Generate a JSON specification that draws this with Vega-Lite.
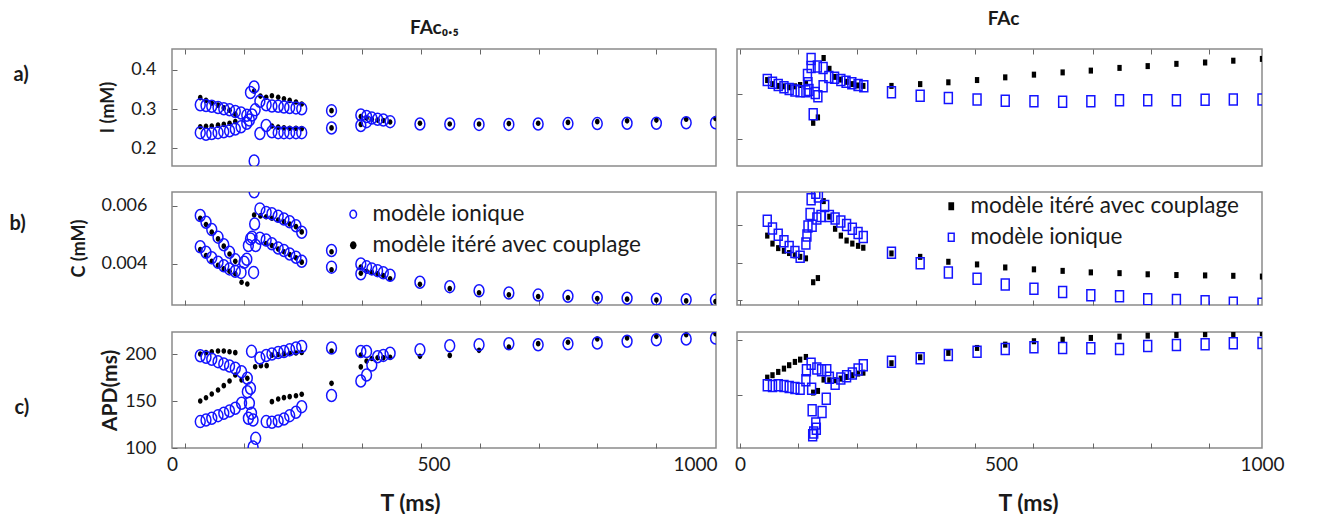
{
"$schema":"https://vega.github.io/schema/vega-lite/v6.json",
"background":"white",
"padding":{"left":8,"top":8,"right":0,"bottom":0},
"config":{
 "font":"Lato",
 "view":{"stroke":"#8a8a8a","strokeWidth":1.5},
 "axis":{"domain":false,"grid":false,"tickSize":-5,"tickColor":"#666","labelFont":"Lato","labelFontSize":18,"labelColor":"#1a1a1a","titleFont":"Lato","titleFontWeight":"bold","titleFontSize":19,"titleColor":"#1a1a1a","labelFlush":false,"labelOverlap":false},
 "axisX":{"labelPadding":12},
 "axisY":{"labelPadding":14},
 "legend":{"labelFont":"Lato","labelFontSize":22.5,"labelColor":"#1a1a1a","labelLimit":500,"symbolSize":64,"symbolStrokeWidth":1.5,"padding":0,"rowPadding":8,"labelOffset":8},
 "title":{"font":"Lato","fontSize":20,"fontWeight":"bold","color":"#1a1a1a"}
},
"datasets":{
"La":[
{"m":"c","T":54,"v":0.329},{"m":"c","T":65,"v":0.322},{"m":"c","T":76,"v":0.315},{"m":"c","T":88,"v":0.31},{"m":"c","T":99,"v":0.303},{"m":"c","T":110,"v":0.297},{"m":"c","T":121,"v":0.287},
{"m":"c","T":54,"v":0.255},{"m":"c","T":65,"v":0.256},{"m":"c","T":76,"v":0.257},{"m":"c","T":88,"v":0.259},{"m":"c","T":99,"v":0.261},{"m":"c","T":110,"v":0.264},{"m":"c","T":121,"v":0.268},
{"m":"c","T":157,"v":0.346},
{"m":"c","T":169,"v":0.333},{"m":"c","T":180,"v":0.33},{"m":"c","T":191,"v":0.334},{"m":"c","T":203,"v":0.33},{"m":"c","T":214,"v":0.326},{"m":"c","T":225,"v":0.322},{"m":"c","T":237,"v":0.318},{"m":"c","T":248,"v":0.313},
{"m":"c","T":191,"v":0.257},{"m":"c","T":203,"v":0.254},{"m":"c","T":214,"v":0.252},{"m":"c","T":225,"v":0.251},{"m":"c","T":237,"v":0.251},{"m":"c","T":248,"v":0.25},
{"m":"c","T":305,"v":0.296},{"m":"c","T":305,"v":0.252},
{"m":"c","T":361,"v":0.281},{"m":"c","T":361,"v":0.261},{"m":"c","T":372,"v":0.277},{"m":"c","T":382,"v":0.274},{"m":"c","T":393,"v":0.272},{"m":"c","T":404,"v":0.271},{"m":"c","T":417,"v":0.267},
{"m":"c","T":474,"v":0.264},{"m":"c","T":531,"v":0.262},{"m":"c","T":587,"v":0.262},{"m":"c","T":644,"v":0.263},{"m":"c","T":700,"v":0.264},{"m":"c","T":757,"v":0.266},{"m":"c","T":813,"v":0.268},{"m":"c","T":870,"v":0.27},{"m":"c","T":926,"v":0.272},{"m":"c","T":983,"v":0.274},{"m":"c","T":1039,"v":0.276},
{"m":"i","T":54,"v":0.311},{"m":"i","T":65,"v":0.309},{"m":"i","T":76,"v":0.307},{"m":"i","T":88,"v":0.304},{"m":"i","T":99,"v":0.301},{"m":"i","T":110,"v":0.298},{"m":"i","T":121,"v":0.294},{"m":"i","T":132,"v":0.29},{"m":"i","T":143,"v":0.284},
{"m":"i","T":54,"v":0.24},{"m":"i","T":65,"v":0.236},{"m":"i","T":76,"v":0.238},{"m":"i","T":88,"v":0.24},{"m":"i","T":99,"v":0.242},{"m":"i","T":110,"v":0.245},{"m":"i","T":121,"v":0.249},{"m":"i","T":132,"v":0.255},{"m":"i","T":143,"v":0.264},
{"m":"i","T":148,"v":0.272},{"m":"i","T":150,"v":0.342},{"m":"i","T":153,"v":0.285},{"m":"i","T":157,"v":0.356},{"m":"i","T":159,"v":0.298},{"m":"i","T":157,"v":0.168},{"m":"i","T":168,"v":0.238},{"m":"i","T":180,"v":0.258},
{"m":"i","T":168,"v":0.32},{"m":"i","T":180,"v":0.311},{"m":"i","T":191,"v":0.308},{"m":"i","T":203,"v":0.307},{"m":"i","T":214,"v":0.305},{"m":"i","T":225,"v":0.304},{"m":"i","T":237,"v":0.303},{"m":"i","T":248,"v":0.301},
{"m":"i","T":191,"v":0.242},{"m":"i","T":203,"v":0.24},{"m":"i","T":214,"v":0.24},{"m":"i","T":225,"v":0.24},{"m":"i","T":237,"v":0.24},{"m":"i","T":248,"v":0.24},
{"m":"i","T":305,"v":0.296},{"m":"i","T":305,"v":0.252},
{"m":"i","T":361,"v":0.285},{"m":"i","T":361,"v":0.258},{"m":"i","T":372,"v":0.281},{"m":"i","T":372,"v":0.268},{"m":"i","T":382,"v":0.277},{"m":"i","T":393,"v":0.274},{"m":"i","T":404,"v":0.272},{"m":"i","T":417,"v":0.268},
{"m":"i","T":474,"v":0.262},{"m":"i","T":531,"v":0.262},{"m":"i","T":587,"v":0.261},{"m":"i","T":644,"v":0.261},{"m":"i","T":700,"v":0.262},{"m":"i","T":757,"v":0.263},{"m":"i","T":813,"v":0.263},{"m":"i","T":870,"v":0.264},{"m":"i","T":926,"v":0.264},{"m":"i","T":983,"v":0.265},{"m":"i","T":1039,"v":0.265}
],
"Lb":[
{"m":"c","T":54,"v":0.00557},{"m":"c","T":65,"v":0.00535},{"m":"c","T":76,"v":0.00509},{"m":"c","T":88,"v":0.00486},{"m":"c","T":99,"v":0.00461},{"m":"c","T":110,"v":0.00434},{"m":"c","T":121,"v":0.00409},
{"m":"c","T":54,"v":0.00449},{"m":"c","T":65,"v":0.00429},{"m":"c","T":76,"v":0.00409},{"m":"c","T":88,"v":0.00395},{"m":"c","T":99,"v":0.00383},{"m":"c","T":110,"v":0.00375},{"m":"c","T":121,"v":0.00366},
{"m":"c","T":133,"v":0.00337},{"m":"c","T":144,"v":0.00331},
{"m":"c","T":157,"v":0.00568},
{"m":"c","T":169,"v":0.00565},{"m":"c","T":180,"v":0.00562},{"m":"c","T":191,"v":0.00557},{"m":"c","T":203,"v":0.00551},{"m":"c","T":214,"v":0.00545},{"m":"c","T":225,"v":0.00537},{"m":"c","T":237,"v":0.00528},{"m":"c","T":248,"v":0.0051},
{"m":"c","T":180,"v":0.0047},{"m":"c","T":191,"v":0.00463},{"m":"c","T":203,"v":0.00451},{"m":"c","T":214,"v":0.00442},{"m":"c","T":225,"v":0.00432},{"m":"c","T":237,"v":0.00421},{"m":"c","T":248,"v":0.00406},
{"m":"c","T":305,"v":0.00442},{"m":"c","T":305,"v":0.0038},
{"m":"c","T":361,"v":0.00389},{"m":"c","T":361,"v":0.00368},{"m":"c","T":372,"v":0.00375},{"m":"c","T":382,"v":0.00371},{"m":"c","T":393,"v":0.00366},{"m":"c","T":404,"v":0.0036},{"m":"c","T":417,"v":0.00349},
{"m":"c","T":474,"v":0.0033},{"m":"c","T":531,"v":0.00315},{"m":"c","T":587,"v":0.00301},{"m":"c","T":644,"v":0.00294},{"m":"c","T":700,"v":0.00288},{"m":"c","T":757,"v":0.00284},{"m":"c","T":813,"v":0.00281},{"m":"c","T":870,"v":0.00279},{"m":"c","T":926,"v":0.00276},{"m":"c","T":983,"v":0.00273},{"m":"c","T":1039,"v":0.00271},
{"m":"i","T":54,"v":0.00566},{"m":"i","T":65,"v":0.00543},{"m":"i","T":76,"v":0.00518},{"m":"i","T":88,"v":0.00492},{"m":"i","T":99,"v":0.00466},{"m":"i","T":110,"v":0.0044},{"m":"i","T":121,"v":0.00414},
{"m":"i","T":54,"v":0.00459},{"m":"i","T":65,"v":0.0044},{"m":"i","T":76,"v":0.00421},{"m":"i","T":88,"v":0.00406},{"m":"i","T":99,"v":0.00394},{"m":"i","T":110,"v":0.00383},{"m":"i","T":121,"v":0.00375},{"m":"i","T":132,"v":0.00371},
{"m":"i","T":138,"v":0.00406},{"m":"i","T":143,"v":0.00416},{"m":"i","T":146,"v":0.00463},{"m":"i","T":150,"v":0.00486},{"m":"i","T":153,"v":0.00492},{"m":"i","T":156,"v":0.00371},{"m":"i","T":158,"v":0.00537},{"m":"i","T":157,"v":0.00648},{"m":"i","T":160,"v":0.00463},
{"m":"i","T":168,"v":0.00589},{"m":"i","T":180,"v":0.00577},{"m":"i","T":191,"v":0.00572},{"m":"i","T":203,"v":0.00564},{"m":"i","T":214,"v":0.00554},{"m":"i","T":225,"v":0.00545},{"m":"i","T":237,"v":0.00531},{"m":"i","T":248,"v":0.00509},
{"m":"i","T":168,"v":0.00488},{"m":"i","T":180,"v":0.00482},{"m":"i","T":191,"v":0.00469},{"m":"i","T":203,"v":0.00455},{"m":"i","T":214,"v":0.00446},{"m":"i","T":225,"v":0.00434},{"m":"i","T":237,"v":0.00423},{"m":"i","T":248,"v":0.00409},
{"m":"i","T":305,"v":0.00446},{"m":"i","T":305,"v":0.00389},
{"m":"i","T":361,"v":0.004},{"m":"i","T":361,"v":0.00366},{"m":"i","T":372,"v":0.0039},{"m":"i","T":382,"v":0.00383},{"m":"i","T":393,"v":0.00377},{"m":"i","T":404,"v":0.0037},{"m":"i","T":417,"v":0.00361},
{"m":"i","T":474,"v":0.00337},{"m":"i","T":531,"v":0.00322},{"m":"i","T":587,"v":0.00308},{"m":"i","T":644,"v":0.003},{"m":"i","T":700,"v":0.00293},{"m":"i","T":757,"v":0.00289},{"m":"i","T":813,"v":0.00285},{"m":"i","T":870,"v":0.00282},{"m":"i","T":926,"v":0.00279},{"m":"i","T":983,"v":0.00277},{"m":"i","T":1039,"v":0.00275}
],
"Lc":[
{"m":"c","T":54,"v":200.5},{"m":"c","T":65,"v":201.9},{"m":"c","T":76,"v":202.9},{"m":"c","T":88,"v":203.7},{"m":"c","T":99,"v":203.7},{"m":"c","T":110,"v":202.9},{"m":"c","T":121,"v":201.9},
{"m":"c","T":54,"v":150.2},{"m":"c","T":65,"v":153.7},{"m":"c","T":76,"v":157.7},{"m":"c","T":88,"v":162},{"m":"c","T":99,"v":166.6},{"m":"c","T":110,"v":171.6},{"m":"c","T":121,"v":178},{"m":"c","T":133,"v":172.7},{"m":"c","T":144,"v":174.5},
{"m":"c","T":159,"v":186.9},{"m":"c","T":170,"v":188},{"m":"c","T":181,"v":188},
{"m":"c","T":191,"v":199.2},{"m":"c","T":203,"v":199.9},{"m":"c","T":214,"v":200.6},{"m":"c","T":225,"v":201},{"m":"c","T":237,"v":201.6},{"m":"c","T":248,"v":202.1},
{"m":"c","T":191,"v":149.5},{"m":"c","T":203,"v":152.4},{"m":"c","T":214,"v":153.8},{"m":"c","T":225,"v":154.9},{"m":"c","T":237,"v":155.9},{"m":"c","T":248,"v":157.5},
{"m":"c","T":305,"v":203.7},{"m":"c","T":305,"v":169.1},
{"m":"c","T":361,"v":199.2},{"m":"c","T":361,"v":186.7},{"m":"c","T":372,"v":192.9},{"m":"c","T":382,"v":195.7},{"m":"c","T":393,"v":196.4},{"m":"c","T":404,"v":196.4},{"m":"c","T":417,"v":196.8},
{"m":"c","T":474,"v":198},{"m":"c","T":531,"v":199},{"m":"c","T":587,"v":204.4},{"m":"c","T":644,"v":208},{"m":"c","T":700,"v":211.5},{"m":"c","T":757,"v":213},{"m":"c","T":813,"v":216.5},{"m":"c","T":870,"v":217.6},{"m":"c","T":926,"v":219.4},{"m":"c","T":983,"v":221.1},{"m":"c","T":1039,"v":222.2},
{"m":"i","T":54,"v":198.7},{"m":"i","T":65,"v":197},{"m":"i","T":76,"v":194.8},{"m":"i","T":88,"v":192.3},{"m":"i","T":99,"v":189.8},{"m":"i","T":110,"v":187.7},{"m":"i","T":121,"v":185.2},{"m":"i","T":133,"v":181.6},{"m":"i","T":144,"v":174.5},
{"m":"i","T":54,"v":128.2},{"m":"i","T":65,"v":130},{"m":"i","T":76,"v":131.8},{"m":"i","T":88,"v":134.6},{"m":"i","T":99,"v":137.2},{"m":"i","T":110,"v":139.6},{"m":"i","T":121,"v":142.5},{"m":"i","T":133,"v":147.8},
{"m":"i","T":144,"v":160.2},{"m":"i","T":150,"v":163.8},{"m":"i","T":152,"v":203.3},{"m":"i","T":148,"v":147.8},{"m":"i","T":152,"v":137.2},{"m":"i","T":146,"v":131.8},{"m":"i","T":155,"v":130},{"m":"i","T":160,"v":110.3},{"m":"i","T":155,"v":101},
{"m":"i","T":168,"v":196.1},{"m":"i","T":180,"v":198.9},{"m":"i","T":191,"v":200.4},{"m":"i","T":203,"v":202.1},{"m":"i","T":214,"v":203.2},{"m":"i","T":225,"v":205},{"m":"i","T":237,"v":206.8},{"m":"i","T":248,"v":208.5},
{"m":"i","T":180,"v":128.2},{"m":"i","T":191,"v":127.5},{"m":"i","T":203,"v":128.9},{"m":"i","T":214,"v":131},{"m":"i","T":225,"v":134.6},{"m":"i","T":237,"v":138.2},{"m":"i","T":248,"v":144.2},
{"m":"i","T":305,"v":206.8},{"m":"i","T":305,"v":156.2},
{"m":"i","T":361,"v":203.2},{"m":"i","T":361,"v":171.6},{"m":"i","T":372,"v":203.2},{"m":"i","T":372,"v":178},{"m":"i","T":382,"v":188.7},{"m":"i","T":393,"v":197.6},{"m":"i","T":404,"v":199},{"m":"i","T":417,"v":201.3},
{"m":"i","T":474,"v":205.1},{"m":"i","T":531,"v":209.3},{"m":"i","T":587,"v":210.4},{"m":"i","T":644,"v":211.5},{"m":"i","T":700,"v":210.4},{"m":"i","T":757,"v":211.5},{"m":"i","T":813,"v":212.2},{"m":"i","T":870,"v":214.1},{"m":"i","T":926,"v":215.8},{"m":"i","T":983,"v":216.5},{"m":"i","T":1039,"v":217.6}
],
"Ra":[
{"m":"c","T":52,"v":0.331},{"m":"c","T":62,"v":0.322},{"m":"c","T":73,"v":0.318},{"m":"c","T":84,"v":0.317},{"m":"c","T":94,"v":0.315},{"m":"c","T":105,"v":0.317},{"m":"c","T":115,"v":0.32},{"m":"c","T":126,"v":0.324},{"m":"c","T":140,"v":0.236},{"m":"c","T":149,"v":0.248},{"m":"c","T":160,"v":0.38},{"m":"c","T":171,"v":0.356},{"m":"c","T":182,"v":0.338},{"m":"c","T":193,"v":0.332},{"m":"c","T":204,"v":0.327},{"m":"c","T":215,"v":0.322},{"m":"c","T":226,"v":0.319},{"m":"c","T":236,"v":0.318},
{"m":"c","T":290,"v":0.318},{"m":"c","T":345,"v":0.322},{"m":"c","T":399,"v":0.326},{"m":"c","T":454,"v":0.331},{"m":"c","T":508,"v":0.337},{"m":"c","T":563,"v":0.343},{"m":"c","T":618,"v":0.348},{"m":"c","T":672,"v":0.352},{"m":"c","T":727,"v":0.358},{"m":"c","T":781,"v":0.362},{"m":"c","T":836,"v":0.367},{"m":"c","T":891,"v":0.37},{"m":"c","T":945,"v":0.374},{"m":"c","T":1000,"v":0.378},
{"m":"i","T":52,"v":0.331},{"m":"i","T":62,"v":0.325},{"m":"i","T":73,"v":0.32},{"m":"i","T":84,"v":0.315},{"m":"i","T":94,"v":0.311},{"m":"i","T":105,"v":0.308},{"m":"i","T":115,"v":0.306},{"m":"i","T":126,"v":0.306},
{"m":"i","T":129,"v":0.342},{"m":"i","T":130,"v":0.324},{"m":"i","T":132,"v":0.309},{"m":"i","T":136,"v":0.378},{"m":"i","T":136,"v":0.36},{"m":"i","T":140,"v":0.255},{"m":"i","T":144,"v":0.302},{"m":"i","T":149,"v":0.295},{"m":"i","T":148,"v":0.361},{"m":"i","T":159,"v":0.358},{"m":"i","T":159,"v":0.317},{"m":"i","T":170,"v":0.338},
{"m":"i","T":181,"v":0.336},{"m":"i","T":193,"v":0.331},{"m":"i","T":203,"v":0.327},{"m":"i","T":214,"v":0.324},{"m":"i","T":226,"v":0.32},{"m":"i","T":237,"v":0.317},
{"m":"i","T":290,"v":0.304},{"m":"i","T":345,"v":0.296},{"m":"i","T":399,"v":0.291},{"m":"i","T":454,"v":0.288},{"m":"i","T":508,"v":0.285},{"m":"i","T":563,"v":0.284},{"m":"i","T":618,"v":0.283},{"m":"i","T":672,"v":0.284},{"m":"i","T":727,"v":0.286},{"m":"i","T":781,"v":0.286},{"m":"i","T":836,"v":0.286},{"m":"i","T":891,"v":0.287},{"m":"i","T":945,"v":0.288},{"m":"i","T":1000,"v":0.288}
],
"Rb":[
{"m":"c","T":52,"v":0.00571},{"m":"c","T":62,"v":0.0055},{"m":"c","T":73,"v":0.00538},{"m":"c","T":84,"v":0.00531},{"m":"c","T":94,"v":0.00525},{"m":"c","T":105,"v":0.00519},{"m":"c","T":115,"v":0.00515},{"m":"c","T":126,"v":0.00511},{"m":"c","T":140,"v":0.00448},{"m":"c","T":149,"v":0.00459},{"m":"c","T":160,"v":0.00662},{"m":"c","T":171,"v":0.00621},{"m":"c","T":182,"v":0.00589},{"m":"c","T":193,"v":0.00571},{"m":"c","T":204,"v":0.00558},{"m":"c","T":215,"v":0.0055},{"m":"c","T":226,"v":0.00544},{"m":"c","T":236,"v":0.00539},
{"m":"c","T":290,"v":0.00524},{"m":"c","T":345,"v":0.00515},{"m":"c","T":399,"v":0.00502},{"m":"c","T":454,"v":0.00495},{"m":"c","T":508,"v":0.00487},{"m":"c","T":563,"v":0.00482},{"m":"c","T":618,"v":0.00478},{"m":"c","T":672,"v":0.00474},{"m":"c","T":727,"v":0.00472},{"m":"c","T":781,"v":0.00469},{"m":"c","T":836,"v":0.00467},{"m":"c","T":891,"v":0.00466},{"m":"c","T":945,"v":0.00465},{"m":"c","T":1000,"v":0.00463},
{"m":"i","T":52,"v":0.0061},{"m":"i","T":62,"v":0.0059},{"m":"i","T":73,"v":0.00573},{"m":"i","T":84,"v":0.00556},{"m":"i","T":94,"v":0.00541},{"m":"i","T":105,"v":0.00528},{"m":"i","T":115,"v":0.00515},
{"m":"i","T":126,"v":0.0055},{"m":"i","T":128,"v":0.00571},{"m":"i","T":130,"v":0.00595},{"m":"i","T":134,"v":0.00628},{"m":"i","T":136,"v":0.00667},{"m":"i","T":138,"v":0.00597},{"m":"i","T":145,"v":0.00684},{"m":"i","T":150,"v":0.00674},{"m":"i","T":147,"v":0.00616},{"m":"i","T":155,"v":0.00623},{"m":"i","T":162,"v":0.00649},
{"m":"i","T":171,"v":0.00623},{"m":"i","T":182,"v":0.00616},{"m":"i","T":193,"v":0.00608},{"m":"i","T":204,"v":0.00599},{"m":"i","T":215,"v":0.00589},{"m":"i","T":226,"v":0.00578},{"m":"i","T":236,"v":0.00567},
{"m":"i","T":290,"v":0.00526},{"m":"i","T":345,"v":0.00498},{"m":"i","T":399,"v":0.00474},{"m":"i","T":454,"v":0.00457},{"m":"i","T":508,"v":0.00442},{"m":"i","T":563,"v":0.00431},{"m":"i","T":618,"v":0.00422},{"m":"i","T":672,"v":0.00414},{"m":"i","T":727,"v":0.00411},{"m":"i","T":781,"v":0.00403},{"m":"i","T":836,"v":0.00401},{"m":"i","T":891,"v":0.00398},{"m":"i","T":945,"v":0.00394},{"m":"i","T":1000,"v":0.00391}
],
"Rc":[
{"m":"c","T":52,"v":166},{"m":"c","T":62,"v":168.2},{"m":"c","T":73,"v":171.2},{"m":"c","T":84,"v":174.2},{"m":"c","T":94,"v":177.3},{"m":"c","T":105,"v":180.3},{"m":"c","T":115,"v":182.4},{"m":"c","T":126,"v":184.8},{"m":"c","T":140,"v":152.4},{"m":"c","T":149,"v":153.9},{"m":"c","T":160,"v":164.2},{"m":"c","T":171,"v":163.6},{"m":"c","T":182,"v":163.6},{"m":"c","T":193,"v":165.1},{"m":"c","T":204,"v":166.6},{"m":"c","T":215,"v":168.2},{"m":"c","T":226,"v":169.7},{"m":"c","T":236,"v":170.5},
{"m":"c","T":290,"v":179.1},{"m":"c","T":345,"v":184.5},{"m":"c","T":399,"v":188.5},{"m":"c","T":454,"v":193},{"m":"c","T":508,"v":196},{"m":"c","T":563,"v":199.1},{"m":"c","T":618,"v":200.5},{"m":"c","T":672,"v":202.1},{"m":"c","T":727,"v":203.3},{"m":"c","T":781,"v":204.2},{"m":"c","T":836,"v":204.8},{"m":"c","T":891,"v":205.5},{"m":"c","T":945,"v":205.7},{"m":"c","T":1000,"v":206.4},
{"m":"i","T":52,"v":159.1},{"m":"i","T":62,"v":158.5},{"m":"i","T":73,"v":159.1},{"m":"i","T":84,"v":158.5},{"m":"i","T":94,"v":157.5},{"m":"i","T":105,"v":156.6},{"m":"i","T":115,"v":156},
{"m":"i","T":126,"v":163.6},{"m":"i","T":127,"v":172.7},{"m":"i","T":136,"v":178.7},{"m":"i","T":137,"v":156},{"m":"i","T":138,"v":136.4},{"m":"i","T":139,"v":113.6},{"m":"i","T":141,"v":116},{"m":"i","T":145,"v":124.2},{"m":"i","T":146,"v":119.6},{"m":"i","T":147,"v":174.2},{"m":"i","T":156,"v":172.7},{"m":"i","T":157,"v":134.8},{"m":"i","T":165,"v":146.9},{"m":"i","T":166,"v":172.7},{"m":"i","T":171,"v":166},
{"m":"i","T":182,"v":160.5},{"m":"i","T":193,"v":165.1},{"m":"i","T":204,"v":167.3},{"m":"i","T":215,"v":169.7},{"m":"i","T":226,"v":173.3},{"m":"i","T":236,"v":177.3},
{"m":"i","T":290,"v":180.5},{"m":"i","T":345,"v":183.6},{"m":"i","T":399,"v":186.6},{"m":"i","T":454,"v":189.6},{"m":"i","T":508,"v":192.1},{"m":"i","T":563,"v":193.6},{"m":"i","T":618,"v":193},{"m":"i","T":672,"v":192.7},{"m":"i","T":727,"v":192.1},{"m":"i","T":781,"v":194.8},{"m":"i","T":836,"v":195.7},{"m":"i","T":891,"v":196.4},{"m":"i","T":945,"v":197.3},{"m":"i","T":1000,"v":197.5}
]
},
"columns":2,
"align":"each",
"spacing":{"row":24,"column":15},
"resolve":{"scale":{"x":"independent","y":"independent","shape":"independent","fill":"independent","stroke":"independent","size":"independent"},"legend":{"shape":"independent","fill":"independent","stroke":"independent","size":"independent"}},
"concat":[
{
 "width":544,"height":117,
 "title":{"text":"a)","orient":"left","angle":0,"anchor":"middle","align":"right","baseline":"middle","offset":55,"dy":-33},
 "data":{"name":"La"},
 "mark":{"type":"point","filled":true,"opacity":1,"strokeWidth":1.5,"clip":true},
 "encoding":{
  "x":{"field":"T","type":"quantitative","scale":{"domain":[0,1040],"nice":false,"zero":false},"axis":{"orient":"top","labels":false,"values":[25,137,249,363,476,589,701,813,926],"title":"FAc₀.₅","titleX":262,"titleY":-22,"titleAlign":"center","titleBaseline":"middle"}},
  "y":{"field":"v","type":"quantitative","scale":{"domain":[0.155,0.453],"nice":false,"zero":false},"axis":{"values":[0.2,0.3,0.4],"format":".1f","labelPadding":21,"title":"I (mM)","titleX":-64,"titleY":58,"titleAlign":"center","titleBaseline":"middle","titleFontSize":18}},
  "shape":{"field":"m","type":"nominal","scale":{"domain":["i","c"],"range":["M0,-1A0.82,1,0,1,1,0,1A0.82,1,0,1,1,0,-1Z","M0,-1A0.82,1,0,1,1,0,1A0.82,1,0,1,1,0,-1Z"]},"legend":null},
  "fill":{"field":"m","type":"nominal","scale":{"domain":["i","c"],"range":["transparent","#000000"]},"legend":null},
  "stroke":{"field":"m","type":"nominal","scale":{"domain":["i","c"],"range":["#1414ff","transparent"]},"legend":null},
  "size":{"field":"m","type":"nominal","scale":{"domain":["i","z","c"],"range":[144,32]},"legend":null}
 }
},
{
 "width":525,"height":117,
 "data":{"name":"Ra"},
 "mark":{"type":"point","filled":true,"opacity":1,"strokeWidth":1.5,"clip":true},
 "encoding":{
  "x":{"field":"T","type":"quantitative","scale":{"domain":[-6,1000],"nice":false,"zero":false},"axis":{"orient":"top","labels":false,"values":[0,111,224,337,450,561,676,787,898],"title":"FAc","titleX":266,"titleY":-31,"titleAlign":"center","titleBaseline":"middle"}},
  "y":{"field":"v","type":"quantitative","scale":{"domain":[0.14,0.4],"nice":false,"zero":false},"axis":{"labels":false,"values":[0.2,0.3],"title":null}},
  "shape":{"field":"m","type":"nominal","scale":{"domain":["i","c"],"range":["M-0.72,-1H0.72V1H-0.72Z","M-0.72,-1H0.72V1H-0.72Z"]},"legend":null},
  "fill":{"field":"m","type":"nominal","scale":{"domain":["i","c"],"range":["transparent","#000000"]},"legend":null},
  "stroke":{"field":"m","type":"nominal","scale":{"domain":["i","c"],"range":["#1414ff","transparent"]},"legend":null},
  "size":{"field":"m","type":"nominal","scale":{"domain":["i","z","c"],"range":[121,36]},"legend":null}
 }
},
{
 "width":544,"height":113,
 "title":{"text":"b)","orient":"left","angle":0,"anchor":"middle","align":"right","baseline":"middle","offset":28,"dy":-25},
 "data":{"name":"Lb"},
 "mark":{"type":"point","filled":true,"opacity":1,"strokeWidth":1.5,"clip":true},
 "encoding":{
  "x":{"field":"T","type":"quantitative","scale":{"domain":[0,1040],"nice":false,"zero":false},"axis":{"labels":false,"values":[25,137,249,363,476,589,701,813,926],"title":null}},
  "y":{"field":"v","type":"quantitative","scale":{"domain":[0.00259,0.00647],"nice":false,"zero":false},"axis":{"values":[0.004,0.006],"format":".3f","labelPadding":30,"title":"C (mM)","titleX":-93,"titleY":56,"titleAlign":"center","titleBaseline":"middle","titleFontSize":18}},
  "shape":{"field":"m","type":"nominal","scale":{"domain":["i","c"],"range":["M0,-1A0.82,1,0,1,1,0,1A0.82,1,0,1,1,0,-1Z","M0,-1A0.82,1,0,1,1,0,1A0.82,1,0,1,1,0,-1Z"]},"legend":{"orient":"none","legendX":170,"legendY":11,"title":null,"labelExpr":"datum.label == 'i' ? 'modèle ionique' : 'modèle itéré avec couplage'"}},
  "fill":{"field":"m","type":"nominal","scale":{"domain":["i","c"],"range":["transparent","#000000"]},"legend":{"orient":"none","legendX":170,"legendY":11,"title":null,"labelExpr":"datum.label == 'i' ? 'modèle ionique' : 'modèle itéré avec couplage'"}},
  "stroke":{"field":"m","type":"nominal","scale":{"domain":["i","c"],"range":["#1414ff","transparent"]},"legend":{"orient":"none","legendX":170,"legendY":11,"title":null,"labelExpr":"datum.label == 'i' ? 'modèle ionique' : 'modèle itéré avec couplage'"}},
  "size":{"field":"m","type":"nominal","scale":{"domain":["i","z","c"],"range":[144,32]},"legend":null}
 }
},
{
 "width":525,"height":113,
 "data":{"name":"Rb"},
 "mark":{"type":"point","filled":true,"opacity":1,"strokeWidth":1.5,"clip":true},
 "encoding":{
  "x":{"field":"T","type":"quantitative","scale":{"domain":[-6,1000],"nice":false,"zero":false},"axis":{"labels":false,"values":[0,111,224,337,450,561,676,787,898],"title":null}},
  "y":{"field":"v","type":"quantitative","scale":{"domain":[0.00388,0.00686],"nice":false,"zero":false},"axis":{"labels":false,"values":[0.004,0.005,0.006],"title":null}},
  "shape":{"field":"m","type":"nominal","scale":{"domain":["c","i"],"range":["M-0.72,-1H0.72V1H-0.72Z","M-0.72,-1H0.72V1H-0.72Z"]},"legend":{"orient":"none","legendX":203,"legendY":3,"title":null,"labelExpr":"datum.label == 'i' ? 'modèle ionique' : 'modèle itéré avec couplage'"}},
  "fill":{"field":"m","type":"nominal","scale":{"domain":["c","i"],"range":["#000000","transparent"]},"legend":{"orient":"none","legendX":203,"legendY":3,"title":null,"labelExpr":"datum.label == 'i' ? 'modèle ionique' : 'modèle itéré avec couplage'"}},
  "stroke":{"field":"m","type":"nominal","scale":{"domain":["c","i"],"range":["transparent","#1414ff"]},"legend":{"orient":"none","legendX":203,"legendY":3,"title":null,"labelExpr":"datum.label == 'i' ? 'modèle ionique' : 'modèle itéré avec couplage'"}},
  "size":{"field":"m","type":"nominal","scale":{"domain":["c","z","i"],"range":[36,121]},"legend":null}
 }
},
{
 "width":544,"height":116,
 "title":{"text":"c)","orient":"left","angle":0,"anchor":"middle","align":"right","baseline":"middle","offset":55,"dy":18},
 "data":{"name":"Lc"},
 "mark":{"type":"point","filled":true,"opacity":1,"strokeWidth":1.5,"clip":true},
 "encoding":{
  "x":{"field":"T","type":"quantitative","scale":{"domain":[0,1040],"nice":false,"zero":false},"axis":{"values":[0,25,137,249,363,476,500,589,701,813,926,1000],"format":"d","labelExpr":"datum.value % 500 === 0 ? datum.label : ''","tickOpacity":{"condition":{"test":"datum.value % 500 === 0","value":0},"value":1},"labelFontSize":19,"title":"T (ms)","titleX":238,"titleY":55,"titleAlign":"center","titleBaseline":"middle","titleFontSize":23}},
  "y":{"field":"v","type":"quantitative","scale":{"domain":[100,224],"nice":false,"zero":false},"axis":{"values":[100,150,200],"labelPadding":21,"title":"APD(ms)","titleX":-62,"titleY":58,"titleAlign":"center","titleBaseline":"middle","titleFontSize":21}},
  "shape":{"field":"m","type":"nominal","scale":{"domain":["i","c"],"range":["M0,-1A0.82,1,0,1,1,0,1A0.82,1,0,1,1,0,-1Z","M0,-1A0.82,1,0,1,1,0,1A0.82,1,0,1,1,0,-1Z"]},"legend":null},
  "fill":{"field":"m","type":"nominal","scale":{"domain":["i","c"],"range":["transparent","#000000"]},"legend":null},
  "stroke":{"field":"m","type":"nominal","scale":{"domain":["i","c"],"range":["#1414ff","transparent"]},"legend":null},
  "size":{"field":"m","type":"nominal","scale":{"domain":["i","z","c"],"range":[144,32]},"legend":null}
 }
},
{
 "width":525,"height":116,
 "data":{"name":"Rc"},
 "mark":{"type":"point","filled":true,"opacity":1,"strokeWidth":1.5,"clip":true},
 "encoding":{
  "x":{"field":"T","type":"quantitative","scale":{"domain":[-6,1000],"nice":false,"zero":false},"axis":{"values":[0,111,224,337,450,500,561,676,787,898,1000],"format":"d","labelExpr":"datum.value % 500 === 0 ? datum.label : ''","tickOpacity":{"condition":{"test":"datum.value == 500 || datum.value == 1000","value":0},"value":1},"labelFontSize":19,"title":"T (ms)","titleX":291,"titleY":55,"titleAlign":"center","titleBaseline":"middle","titleFontSize":23}},
  "y":{"field":"v","type":"quantitative","scale":{"domain":[102,207.5],"nice":false,"zero":false},"axis":{"labels":false,"values":[150,200],"title":null}},
  "shape":{"field":"m","type":"nominal","scale":{"domain":["i","c"],"range":["M-0.72,-1H0.72V1H-0.72Z","M-0.72,-1H0.72V1H-0.72Z"]},"legend":null},
  "fill":{"field":"m","type":"nominal","scale":{"domain":["i","c"],"range":["transparent","#000000"]},"legend":null},
  "stroke":{"field":"m","type":"nominal","scale":{"domain":["i","c"],"range":["#1414ff","transparent"]},"legend":null},
  "size":{"field":"m","type":"nominal","scale":{"domain":["i","z","c"],"range":[121,36]},"legend":null}
 }
}
]
}
